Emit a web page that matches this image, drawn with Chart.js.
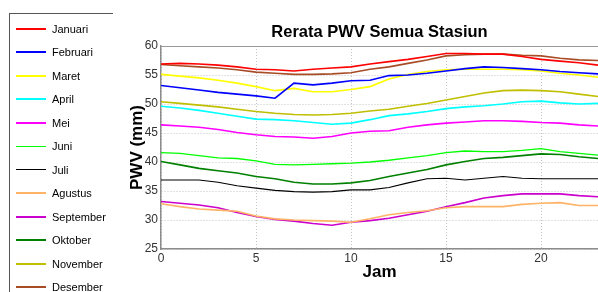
<!DOCTYPE html>
<html><head><meta charset="utf-8">
<script src="https://cdn.jsdelivr.net/npm/chart.js@4.4.1/dist/chart.umd.min.js"></script>
<style>
html,body{margin:0;padding:0;background:#fff;}
#wrap{position:relative;width:598px;height:292px;overflow:hidden;font-family:"Liberation Sans",Arial,sans-serif;background:#fff;}
canvas{position:absolute;left:0;top:0;}
#legend{position:absolute;left:9px;top:13px;width:103px;height:300px;border-top:1px solid #555;border-left:1px solid #555;}
.row{position:absolute;left:0;height:16px;width:100px;}
.sw{position:absolute;left:6px;width:30px;}
.lb{position:absolute;left:42px;top:0;line-height:16px;font-size:11px;color:#000;white-space:nowrap;}
</style></head>
<body><div id="wrap"><canvas id="c" width="598" height="292"></canvas><div id="legend"></div></div>
<script>
const chartTitle = "Rerata PWV Semua Stasiun";
const xTitle = "Jam";
const yTitle = "PWV (mm)";
const hours = [0,1,2,3,4,5,6,7,8,9,10,11,12,13,14,15,16,17,18,19,20,21,22,23];
const xTickValues = [0,5,10,15,20];
const monthNames = ["Januari","Februari","Maret","April","Mei","Juni","Juli","Agustus","September","Oktober","November","Desember"];

const januari   = [56.9,57.0,56.9,56.7,56.4,56.0,55.9,55.7,56.0,56.2,56.4,56.9,57.3,57.7,58.2,58.7,58.7,58.6,58.6,58.2,57.7,57.4,57.1,56.7];
const februari  = [53.2,52.8,52.4,52.0,51.7,51.4,51.0,53.6,53.3,53.6,54.0,54.1,54.9,55.0,55.3,55.7,56.1,56.4,56.3,56.1,55.9,55.6,55.4,55.2];
const maret     = [55.1,54.8,54.5,54.1,53.6,53.0,52.3,52.7,52.1,52.1,52.5,53.0,54.3,55.1,55.6,55.9,56.0,56.0,56.0,55.9,55.7,55.3,55.0,54.6];
const april     = [49.6,49.3,48.9,48.4,47.9,47.4,47.3,47.1,46.8,46.5,46.7,47.3,48.0,48.3,48.7,49.2,49.5,49.7,50.0,50.4,50.5,50.2,50.0,50.1];
const mei       = [46.4,46.2,46.0,45.6,45.1,44.7,44.4,44.3,44.1,44.4,45.0,45.3,45.4,46.0,46.4,46.7,46.9,47.1,47.1,47.0,46.8,46.7,46.4,46.2];
const juni      = [41.6,41.5,41.1,40.7,40.6,40.2,39.6,39.5,39.6,39.7,39.8,40.0,40.3,40.7,41.1,41.6,41.9,41.8,41.8,42.0,42.3,41.8,41.5,41.2];
const juli      = [36.9,36.9,36.9,36.5,35.9,35.5,35.1,34.9,34.8,34.9,35.2,35.2,35.6,36.4,37.1,37.2,36.9,37.2,37.5,37.2,37.1,37.1,37.1,37.1];
const agustus   = [32.8,32.3,31.9,31.7,31.5,30.7,30.2,30.0,29.9,29.8,29.6,30.2,30.9,31.3,31.6,32.1,32.3,32.3,32.3,32.7,32.9,33.0,32.5,32.5];
const september = [33.2,32.9,32.6,32.1,31.3,30.6,30.1,29.8,29.4,29.1,29.6,29.9,30.3,30.9,31.5,32.3,33.0,33.8,34.2,34.5,34.5,34.5,34.2,34.0];
const oktober   = [40.1,39.5,38.9,38.5,38.1,37.5,37.1,36.5,36.2,36.2,36.4,36.8,37.5,38.1,38.7,39.5,40.1,40.6,40.8,41.1,41.4,41.3,40.9,40.6];
const november  = [50.4,50.1,49.8,49.5,49.1,48.7,48.4,48.2,48.1,48.2,48.4,48.8,49.1,49.6,50.1,50.7,51.3,51.9,52.3,52.4,52.3,52.1,51.7,51.3];
const desember  = [56.8,56.6,56.4,56.2,55.9,55.5,55.3,55.1,55.1,55.2,55.4,56.0,56.4,57.0,57.6,58.3,58.5,58.6,58.6,58.4,58.3,57.9,57.6,57.5];

const seriesValues = [januari,februari,maret,april,mei,juni,juli,agustus,september,oktober,november,desember];

// styles kept separately
const lineColors = ["#ff0000","#0000ff","#ffff00","#00ffff","#ff00ff","#00ff00","#000000","#ffb366","#cc00cc","#008000","#bfbf00","#a84c26"];
const lineWidths = [1.6,1.6,1.6,1.6,1.6,1.3,1.1,1.6,1.6,1.6,1.6,1.6];
const legendWidths = [2,2,2,2,2,1,1,2,2,2,2,2];

const FONT = '"Liberation Sans", Arial, sans-serif';

const datasets = monthNames.map((name, i) => ({
  label: name,
  data: hours.map((h, j) => ({x: h, y: seriesValues[i][j]})),
  borderColor: lineColors[i],
  backgroundColor: lineColors[i],
  borderWidth: lineWidths[i],
  pointRadius: 0,
  tension: 0,
  fill: false
}));

const overlayPlugin = {
  id: 'overlay',
  afterDraw(chart) {
    const {ctx, chartArea: a} = chart;
    ctx.save();
    ctx.strokeStyle = '#9a9a9a';
    ctx.lineWidth = 1;
    ctx.beginPath();
    ctx.moveTo(a.left, a.top + 0.5);
    ctx.lineTo(a.right, a.top + 0.5);
    ctx.stroke();
    ctx.fillStyle = '#000';
    ctx.textAlign = 'center';
    ctx.textBaseline = 'alphabetic';
    ctx.font = 'bold 16.5px ' + FONT;
    ctx.fillText(chartTitle, (a.left + a.right) / 2, 36.5);
    ctx.font = 'bold 17px ' + FONT;
    ctx.fillText(xTitle, (a.left + a.right) / 2, 277);
    ctx.translate(142, (a.top + a.bottom) / 2);
    ctx.rotate(-Math.PI / 2);
    ctx.fillText(yTitle, 0, 0);
    ctx.restore();
  }
};

new Chart(document.getElementById('c'), {
  type: 'line',
  data: { datasets },
  options: {
    responsive: false,
    animation: false,
    devicePixelRatio: 1,
    layout: { padding: { top: 46, right: 0, left: 0, bottom: 0 } },
    plugins: { legend: { display: false }, title: { display: false }, tooltip: { enabled: false } },
    scales: {
      x: {
        type: 'linear', min: 0, max: 23,
        ticks: { stepSize: 5, color: '#333', font: { size: 12, family: FONT }, padding: 2, maxRotation: 0 },
        afterBuildTicks(s) { s.ticks = xTickValues.map(v => ({ value: v })); },
        grid: { color: '#c4c4c4', lineWidth: 1, drawTicks: false },
        border: { color: '#8c8c8c', width: 1.5, dash: [1, 2] },
        afterFit(s) { s.height = 43; }
      },
      y: {
        min: 25, max: 60,
        ticks: { stepSize: 5, color: '#333', font: { size: 12, family: FONT }, padding: 3 },
        grid: { color: '#c4c4c4', lineWidth: 1, drawTicks: false },
        border: { color: '#8c8c8c', width: 1.5, dash: [1, 2] },
        afterFit(s) { s.width = 161; }
      }
    }
  },
  plugins: [overlayPlugin]
});

// HTML legend built from the same arrays
const legend = document.getElementById('legend');
monthNames.forEach((name, i) => {
  const center = 28.5 + i * 23.5;
  const row = document.createElement('div');
  row.className = 'row';
  row.style.top = (center - 14 - 8) + 'px';
  const sw = document.createElement('div');
  sw.className = 'sw';
  sw.style.height = legendWidths[i] + 'px';
  sw.style.top = (8 - legendWidths[i] / 2) + 'px';
  sw.style.background = lineColors[i];
  const lb = document.createElement('div');
  lb.className = 'lb';
  lb.textContent = name;
  row.appendChild(sw);
  row.appendChild(lb);
  legend.appendChild(row);
});
</script>
</body></html>
